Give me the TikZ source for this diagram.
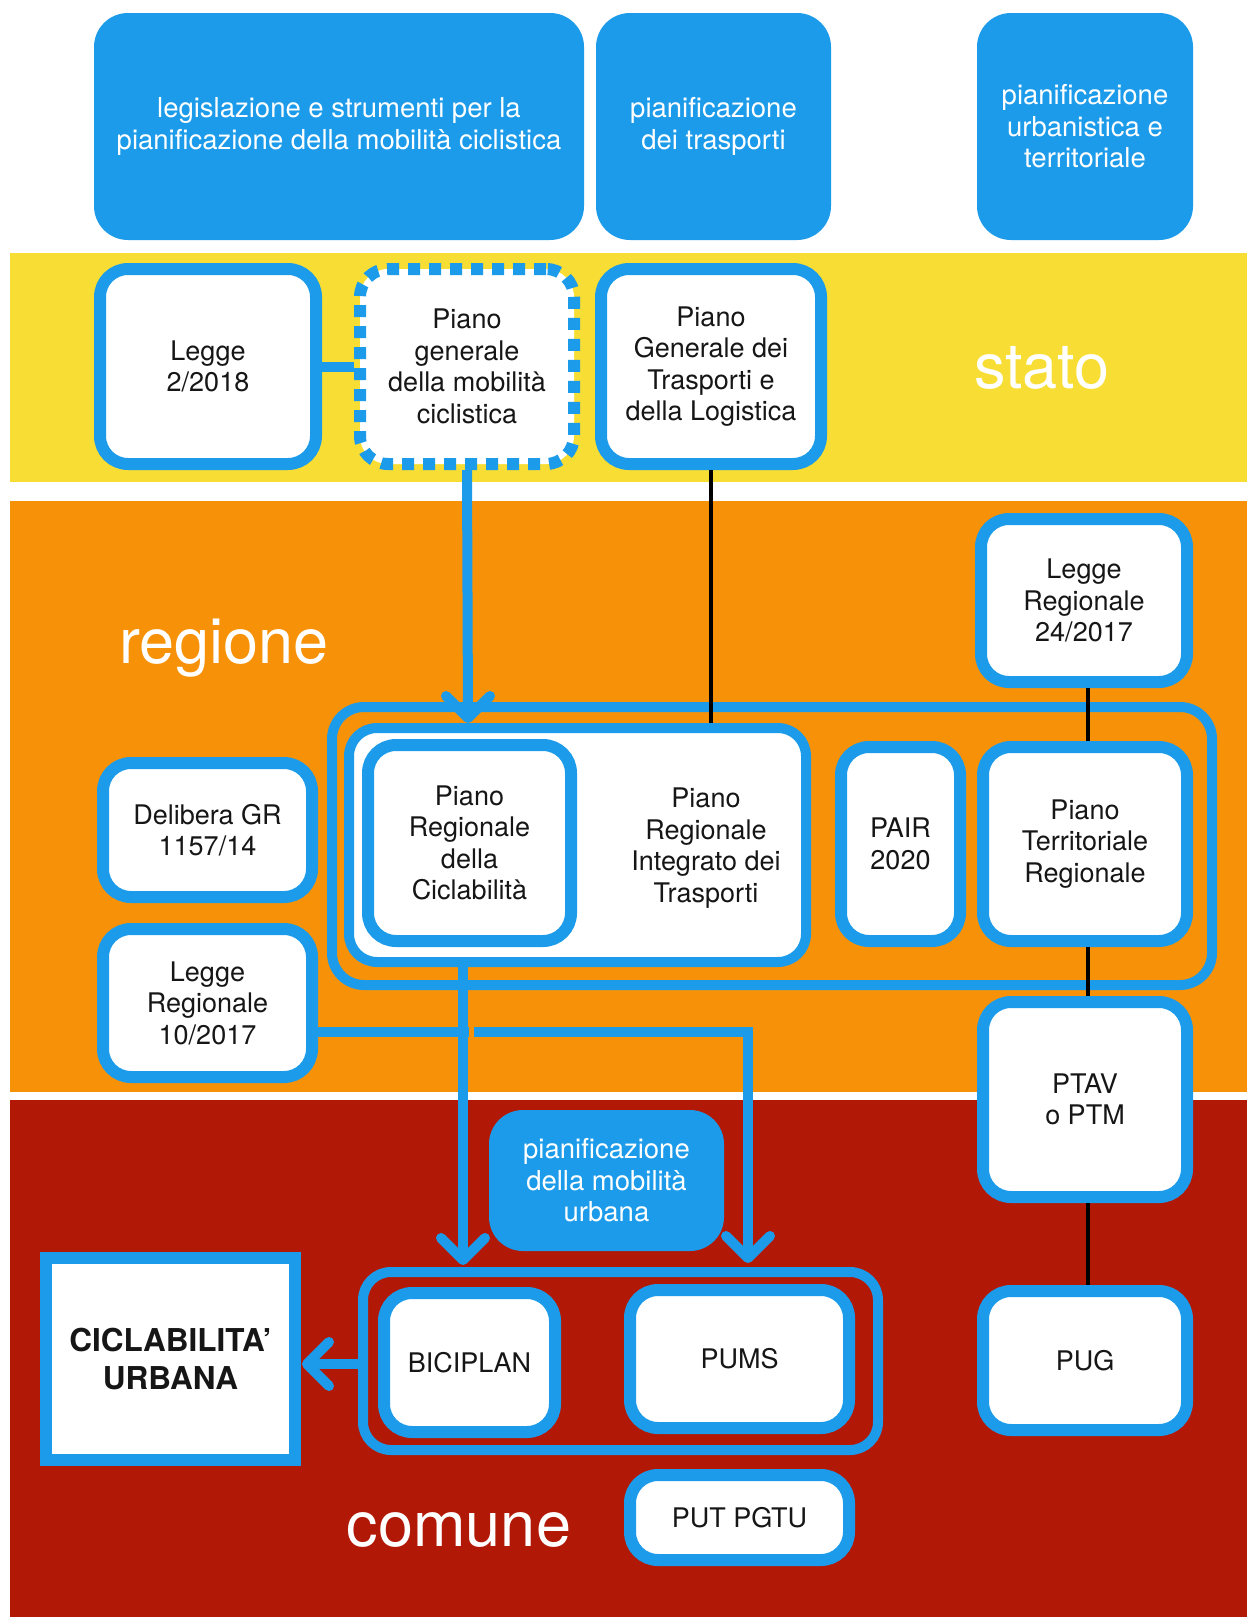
\documentclass[tikz,border=0pt]{standalone}
\usepackage{fontspec}
\setmainfont{TeX Gyre Heros}
\definecolor{cblue}{RGB}{28,155,234}
\definecolor{cyellow}{RGB}{248,222,52}
\definecolor{corange}{RGB}{247,146,8}
\definecolor{cred}{RGB}{178,24,6}
\definecolor{ctext}{RGB}{22,22,22}
\newcommand\fsbox{\fontsize{27}{31.5}\selectfont}
\newcommand\fstop{\fontsize{27.5}{31.5}\selectfont}
\newcommand\fsbig{\fontsize{63}{70}\selectfont}
\tikzset{
  topbox/.style={fill=cblue, rounded corners=34pt, align=center, font=\fstop, text=white, inner sep=0pt},
  wbox/.style={draw=cblue, line width=12pt, fill=white, rounded corners=28pt, align=center, font=\fsbox, text=ctext, inner sep=0pt},
  dotbox/.style={wbox, dash pattern=on 12pt off 9pt},
  groupbox/.style={draw=cblue, line width=10pt, rounded corners=32pt, inner sep=0pt},
  bigtext/.style={font=\fsbig, text=white, inner sep=0pt},
  blueline/.style={draw=cblue, line width=10pt},
  chev/.style={draw=cblue, line width=10pt, line cap=round, line join=round},
  blackline/.style={draw=black, line width=3.5pt}
}
\begin{document}
\begin{tikzpicture}[x=1pt,y=-1pt]
\useasboundingbox (0,0) rectangle (1247,1617);
\fill[white] (0,0) rectangle (1247,1617);
% bands
\fill[cyellow] (10,253) rectangle (1247,482);
\fill[corange] (10,501) rectangle (1247,1092);
\fill[cred] (10,1100) rectangle (1247,1617);

% top header boxes
\node[topbox, minimum width=490pt, minimum height=227pt] (t1) at (339,126.5)
  {legislazione e strumenti per la\\pianificazione della mobilità ciclistica};
\node[topbox, minimum width=235pt, minimum height=227pt] (t2) at (713.5,126.5)
  {pianificazione\\dei trasporti};
\node[topbox, minimum width=216pt, minimum height=227pt] (t3) at (1085,126.5)
  {pianificazione\\urbanistica e\\territoriale};

% stato
\node[wbox, minimum width=216pt, minimum height=195pt] (l2018) at (208,366.5) {Legge\\2/2018};
\node[dotbox, minimum width=214pt, minimum height=195pt] (pgmc) at (467,366.5) {Piano\\generale\\della mobilità\\ciclistica};
\node[wbox, minimum width=220pt, minimum height=195pt] (pgtl) at (711,366.5) {Piano\\Generale dei\\Trasporti e\\della Logistica};
\node[bigtext] (stato) at (1042,368) {stato};

% regione
\node[bigtext] (regione) at (224,648) {regione};
\node[wbox, minimum width=206pt, minimum height=163pt] (lr24) at (1084,600.5) {Legge\\Regionale\\24/2017};
\node[groupbox, minimum width=880pt, minimum height=278pt] (rgroup) at (772,846) {};
\node[groupbox, fill=white, rounded corners=28pt, minimum width=457pt, minimum height=234pt] (prit) at (577.5,845) {};
\node[align=center, font=\fsbox, text=ctext, inner sep=0pt] (prittext) at (706,848) {Piano\\Regionale\\Integrato dei\\Trasporti};
\node[wbox, minimum width=203pt, minimum height=196pt] (prc) at (469.5,843) {Piano\\Regionale\\della\\Ciclabilità};
\node[wbox, minimum width=119pt, minimum height=194pt] (pair) at (900.5,844) {PAIR\\2020};
\node[wbox, minimum width=204pt, minimum height=194pt] (ptr) at (1085,844) {Piano\\Territoriale\\Regionale};
\node[wbox, minimum width=209pt, minimum height=134pt] (dgr) at (207.5,830) {Delibera GR\\1157/14};
\node[wbox, minimum width=209pt, minimum height=148pt] (lr10) at (207.5,1003) {Legge\\Regionale\\10/2017};
\node[wbox, minimum width=204pt, minimum height=195pt] (ptav) at (1085,1099.5) {PTAV\\o PTM};

% comune
\node[topbox, minimum width=235pt, minimum height=141pt] (pmu) at (606.5,1180.5) {pianificazione\\della mobilità\\urbana};
\node[groupbox, rounded corners=28pt, minimum width=515pt, minimum height=178pt] (cgroup) at (620.5,1361) {};
\node[wbox, minimum width=171pt, minimum height=139pt] (bici) at (469.5,1362.5) {BICIPLAN};
\node[wbox, minimum width=219pt, minimum height=138pt] (pums) at (739.5,1359) {PUMS};
\node[wbox, minimum width=204pt, minimum height=139pt] (pug) at (1085,1360.5) {PUG};
\node[wbox, rounded corners=0pt, minimum width=249pt, minimum height=202pt, font=\bfseries\fontsize{31.5}{38.5}\selectfont] (curb) at (170.5,1359) {CICLABILITA’\\URBANA};
\node[wbox, minimum width=219pt, minimum height=85pt] (put) at (739.5,1517.5) {PUT PGTU};
\node[bigtext] (comune) at (459,1530) {comune};

% connector end points
\coordinate (tipA) at (468,718);
\coordinate (tipB) at (463,1260);
\coordinate (bendC) at (748,1032);
\coordinate (tipC) at (748,1258);
\coordinate (tipD) at (307,1364);

% blue connectors
\draw[blueline] (l2018.east) -- (pgmc.west);
\draw[blueline] (pgmc.south) -- (tipA);
\draw[chev] (446,696) -- (tipA) -- (490,696);
\draw[blueline] (lr10.east |- bendC) -- (bendC) -- (tipC);
\fill[corange] (469,1026) rectangle (474,1038);
\draw[blueline] (prit.south -| tipB) -- (tipB);
\draw[chev] (441,1238) -- (tipB) -- (485,1238);
\draw[chev] (726,1236) -- (tipC) -- (770,1236);
\draw[blueline] (cgroup.west |- tipD) -- (tipD);
\draw[chev] (329,1342) -- (tipD) -- (329,1386);

% black connectors
\draw[blackline] (pgtl.south) -- (pgtl.south |- prit.north);
\draw[blackline] (lr24.south -| 1088,0) -- (ptr.north -| 1088,0);
\draw[blackline] (ptr.south -| 1088,0) -- (ptav.north -| 1088,0);
\draw[blackline] (ptav.south -| 1088,0) -- (pug.north -| 1088,0);
\end{tikzpicture}
\end{document}
